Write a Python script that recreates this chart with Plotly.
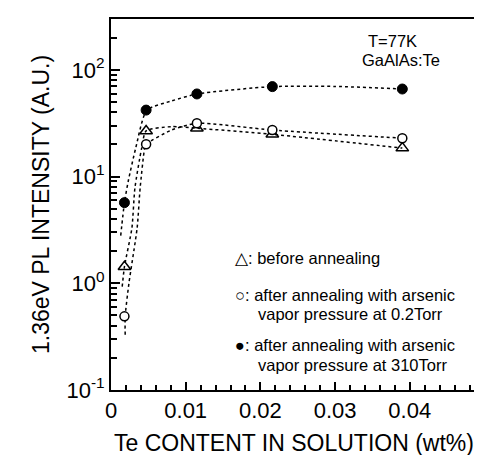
import plotly.graph_objects as go

# ---- data ----
te_content = [0.0018, 0.0047, 0.0115, 0.0216, 0.039]
before_annealing = [1.43, 26.8, 28.4, 24.9, 18.5]
after_02torr = [0.49, 20.1, 31.6, 27.3, 22.9]
after_310torr = [5.7, 42.0, 59.5, 69.7, 66.2]

# dotted guide curves
curve_before_x = [0.0015, 0.0018, 0.0028, 0.0032, 0.0041, 0.0047, 0.0081, 0.0115, 0.0216, 0.039]
curve_before_y = [0.93, 1.43, 3.3, 7.8, 18.4, 26.8, 29.4, 28.4, 24.9, 18.5]
curve_02_x = [0.0019, 0.0019, 0.0024, 0.0035, 0.0039, 0.0045, 0.0047, 0.0081, 0.0115, 0.0216, 0.039]
curve_02_y = [0.33, 0.49, 1.0, 3.3, 7.8, 18.4, 20.1, 27.3, 31.6, 27.3, 22.9]
curve_310_x = [0.0013, 0.0018, 0.0023, 0.0033, 0.0048, 0.0081, 0.0115, 0.0216, 0.030, 0.039]
curve_310_y = [2.8, 5.7, 9.0, 18.4, 42.0, 51.1, 59.5, 69.7, 70.0, 66.2]

# tick labels
y_label_alias = {
    "0.1": "10<sup>-1</sup>",
    "1": "10<sup>0</sup>",
    "10": "10<sup>1</sup>",
    "100": "10<sup>2</sup>",
}

FONT = "Liberation Sans, Arial, Helvetica, sans-serif"

fig = go.Figure()
dot = dict(color="black", width=1.5, dash="dot", shape="spline", smoothing=0.6)
for cx, cy in [(curve_before_x, curve_before_y), (curve_02_x, curve_02_y), (curve_310_x, curve_310_y)]:
    fig.add_trace(go.Scatter(x=cx, y=cy, mode="lines", line=dot,
                             hoverinfo="skip", showlegend=False))

fig.add_trace(go.Scatter(x=te_content, y=before_annealing, mode="markers", showlegend=False,
                         marker=dict(symbol="triangle-up-open", size=11, color="black",
                                     line=dict(width=1.5, color="black"))))
fig.add_trace(go.Scatter(x=te_content, y=after_02torr, mode="markers", showlegend=False,
                         marker=dict(symbol="circle", size=9, color="white",
                                     line=dict(width=1.5, color="black"))))
fig.add_trace(go.Scatter(x=te_content, y=after_310torr, mode="markers", showlegend=False,
                         marker=dict(symbol="circle", size=10, color="black",
                                     line=dict(width=1, color="black"))))

L, R, T, B = 103, 13, 11, 73
fig.update_layout(
    width=482, height=455,
    margin=dict(l=L, r=R, t=T, b=B, autoexpand=False),
    paper_bgcolor="white", plot_bgcolor="white",
    font=dict(family=FONT, color="black"),
    xaxis=dict(
        range=[0, 0.049], showline=True, linecolor="black", linewidth=2, mirror=True,
        gridcolor="white", zeroline=False, automargin=False,
        tickmode="linear", tick0=0, dtick=0.01,
        ticks="inside", ticklen=8, tickwidth=2, tickcolor="black",
        minor=dict(ticks="inside", tick0=0, dtick=0.002, ticklen=5, tickwidth=2, tickcolor="black"),
        tickfont=dict(size=22, family=FONT),
        title=dict(text="Te CONTENT IN SOLUTION (wt%)", font=dict(size=23, family=FONT), standoff=12),
    ),
    yaxis=dict(
        type="log", range=[-1, 2.477], showline=True, linecolor="black", linewidth=2, mirror=True,
        gridcolor="white", zeroline=False, automargin=False,
        tickmode="linear", tick0=0, dtick=1, labelalias=y_label_alias,
        ticks="inside", ticklen=9, tickwidth=2, tickcolor="black",
        minor=dict(ticks="inside", dtick="D1", ticklen=6, tickwidth=2, tickcolor="black"),
        tickfont=dict(size=22, family=FONT),
        title=dict(text="1.36eV PL INTENSITY (A.U.)", font=dict(size=23, family=FONT), standoff=10),
    ),
)

ann_font = dict(size=16.5, family=FONT, color="black")
notes = [
    ("T=77K", 0.696, 0.940),
    ("GaAlAs:Te", 0.680, 0.889),
    ("\u25b3: before annealing", 0.334, 0.355),
    ("\u25cb: after annealing with arsenic", 0.334, 0.256),
    ("vapor pressure at 0.2Torr", 0.397, 0.204),
    ("\u25cf: after annealing with arsenic", 0.334, 0.121),
    ("vapor pressure at 310Torr", 0.397, 0.067),
]
for txt, xp, yp in notes:
    fig.add_annotation(text=txt, x=xp, y=yp, xref="paper", yref="paper",
                       xanchor="left", yanchor="middle", showarrow=False, font=ann_font)

fig.write_html("out.html")
